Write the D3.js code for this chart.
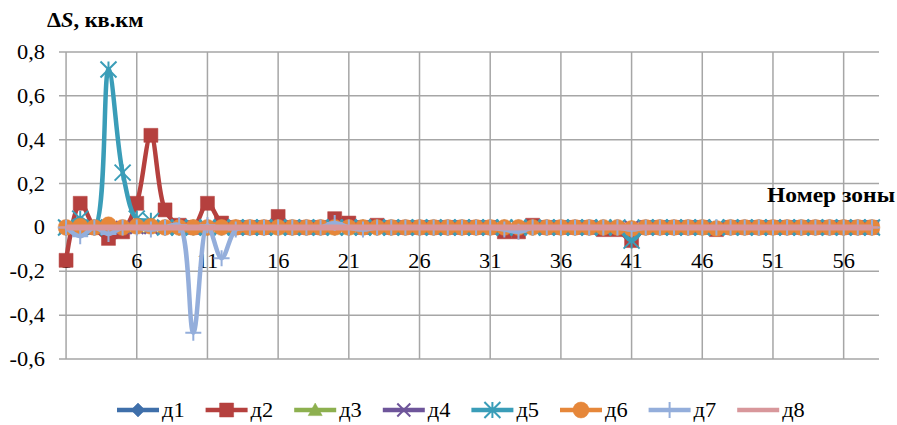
<!DOCTYPE html>
<html>
<head>
<meta charset="utf-8">
<script src="https://cdn.jsdelivr.net/npm/d3@7"></script>
<style>
  html, body { margin: 0; padding: 0; background: #fff; }
  svg { display: block; }
</style>
</head>
<body>
<svg id="chart" width="897" height="425"></svg>
<script>
// Zone numbers along the horizontal axis
const zones = [1,2,3,4,5,6,7,8,9,10,11,12,13,14,15,16,17,18,19,20,
               21,22,23,24,25,26,27,28,29,30,31,32,33,34,35,36,37,38,39,40,
               41,42,43,44,45,46,47,48,49,50,51,52,53,54,55,56,57,58];
const xTickLabels = ["1","6","11","16","21","26","31","36","41","46","51","56"];
const yTicks = [-0.6, -0.4, -0.2, 0, 0.2, 0.4, 0.6, 0.8];
const yTickLabels = ["-0,6","-0,4","-0,2","0","0,2","0,4","0,6","0,8"];
const seriesNames = ["д1","д2","д3","д4","д5","д6","д7","д8"];

// Area change ΔS per zone, km²
const d1 = [0,0,0,0,0,0,0,0,0,0, 0,0,0,0,0,0,0,0,0,0, 0,0,0,0,0,0,0,0,0,0,
            0,0,0,0,0,0,0,0,0,0, 0,0,0,0,0,0,0,0,0,0, 0,0,0,0,0,0,0,0];
const d2 = [-0.15,0.11,0.0,-0.05,-0.02,0.11,0.42,0.08,0.01,0.0,
            0.11,0.02,0.0,0.0,0.0,0.05,0.0,0.0,0.0,0.04,
            0.02,0.0,0.01,0.0,0.0,0.0,0.0,0.0,0.0,0.0,
            0.0,-0.02,-0.02,0.01,0.0,0.0,0.0,0.0,-0.01,-0.01,
            -0.06,0.0,0.0,0.0,0.0,0.0,-0.01,0.0,0.0,0.0,
            0.0,0.0,0.0,0.0,0.0,0.0,0.0,0.0];
const d3v = [0,0,0,0,0,0,0,0,0,0, 0,0,0,0,0,-0.005,0,0,0,-0.005, -0.005,0,0,0,0,0,0,0,0,0,
             0,0,0,0,0,0,0,0,0,0, 0,0,0,0,0,-0.005,0,0,0,0, 0,0,0,0,0,0,0,0];
const d4 = [0,0,0,0,0,0,0,0,0,0, 0,0,0,0,0,0,0,0,0,0, 0,0,0,0,0,0,0,0,0,0,
            0,0,0,0,0,0,0,0,0,0, 0,0,0,0,0,0,0,0,0,0, 0,0,0,0,0,0,0,0];
const d5 = [0.0,0.04,0.0,0.72,0.25,0.04,0.03,0.0,0.0,0.0,
            0.0,0.0,0.0,0.0,0.0,0.0,0.0,0.0,0.0,0.0,
            0.0,0.0,0.0,0.0,0.0,0.0,0.0,0.0,0.0,0.0,
            0.0,0.0,0.0,0.0,0.0,0.0,0.0,0.0,0.0,0.0,
            -0.06,0.0,0.0,0.0,0.0,0.0,0.0,0.0,0.0,0.0,
            0.0,0.0,0.0,0.0,0.0,0.0,0.0,0.0];
const d6 = [0,0.005,0,0.012,0,0.005,0.005,0,0,0, 0,0,0,0,0,0,0,0,0,0, 0,0,0,0,0,0,0,0,0,0,
            0,0,0,0,0,0,0,0,0,0, -0.005,0,0,0,0,0,-0.005,0,0,0, 0,0,0,0,0,0,0,0];
const d7 = [0.0,-0.04,0.0,-0.03,0.0,0.0,-0.01,0.0,0.01,-0.48,
            0.01,-0.14,-0.01,0.0,0.0,0.0,0.0,0.0,0.0,0.02,
            0.0,-0.01,0.0,0.0,0.0,0.0,0.0,0.0,0.0,0.0,
            0.0,-0.01,-0.02,0.0,0.0,0.0,0.0,0.0,0.0,0.0,
            -0.01,0.0,0.0,0.0,0.0,0.0,0.0,0.0,0.0,0.0,
            0.0,0.0,0.0,0.0,0.0,0.0,0.0,0.0];
const d8 = [0,0,0,0,0,0,0,0,0,0, 0,0,0,0,0,0,0,0,0,0, 0,0,0,0,0,0,0,0,0,0,
            0,0,0,0,0,0,0,0,0,0, 0,0,0,0,0,0,0,0,0,0, 0,0,0,0,0,0,0,0];

const seriesValues = [d1, d2, d3v, d4, d5, d6, d7, d8];
const colors = ["#3F6FAA","#B5403E","#8DB04F","#6E559A","#3A9DB8","#E6873A","#94AEDB","#D8979B"];
const markerKinds = ["diamond","square","triangle","times","star","circle","plus","dash"];

const FONT = '"Liberation Serif"';
const svg = d3.select("#chart");
const margin = {left: 59, right: 18, top: 52, bottom: 66};
const W = 897, H = 425;

const x = d3.scaleLinear().domain([0.5, 58.5]).range([margin.left, W - margin.right]);
const y = d3.scaleLinear().domain([-0.6, 0.8]).range([H - margin.bottom, margin.top]);

const gridColor = "#A6A6A6";

// horizontal gridlines
svg.append("g").selectAll("line").data(yTicks).join("line")
  .attr("x1", margin.left).attr("x2", W - margin.right)
  .attr("y1", d => y(d)).attr("y2", d => y(d))
  .attr("stroke", gridColor).attr("stroke-width", 1.5);

// vertical gridlines at labelled zones
svg.append("g").selectAll("line").data(xTickLabels).join("line")
  .attr("x1", d => x(+d)).attr("x2", d => x(+d))
  .attr("y1", y(0.8)).attr("y2", y(-0.6))
  .attr("stroke", gridColor).attr("stroke-width", 1.5);

// slightly widened labels, anchored at (px, py)
const SX = 1.12;

// value axis labels
svg.append("g").selectAll("text").data(yTicks).join("text")
  .attr("transform", d => `translate(45,${y(d) + 7}) scale(${SX},1)`)
  .attr("text-anchor", "end")
  .style("font-family", FONT).style("font-size", "20px")
  .attr("fill", "#000")
  .text((d, i) => yTickLabels[i]);

// zone labels just below the zero line
svg.append("g").selectAll("text").data(xTickLabels).join("text")
  .attr("transform", d => `translate(${x(+d)},${y(0) + 41}) scale(${SX},1)`)
  .attr("text-anchor", "middle")
  .style("font-family", FONT).style("font-size", "20px")
  .attr("fill", "#000")
  .text(d => d);

// marker shapes
function markerPath(kind, s) {
  switch (kind) {
    case "diamond": return `M0,${-s}L${s},0L0,${s}L${-s},0Z`;
    case "square": return `M${-s},${-s}H${s}V${s}H${-s}Z`;
    case "triangle": return `M0,${-s}L${s},${s*0.8}L${-s},${s*0.8}Z`;
    case "circle": return d3.symbol(d3.symbolCircle, Math.PI * s * s)();
    case "times": return `M${-s},${-s}L${s},${s}M${s},${-s}L${-s},${s}`;
    case "plus": return `M0,${-s}V${s}M${-s},0H${s}`;
    case "star": return `M${-s},${-s}L${s},${s}M${s},${-s}L${-s},${s}M0,${-s}V${s}`;
    case "dash": return `M${-s},0H${s}`;
  }
}
const filled = {diamond: true, square: true, triangle: true, circle: true};
const markerSize = {diamond: 7, square: 7, triangle: 7, circle: 8, times: 6.5, plus: 8, star: 8, dash: 6};

const line = d3.line()
  .x((d, i) => x(zones[i]))
  .y(d => y(d))
  .curve(d3.curveCatmullRom.alpha(0.5));

const plot = svg.append("g");
seriesValues.forEach((vals, si) => {
  const g = plot.append("g");
  const c = colors[si], k = markerKinds[si];
  g.append("path").datum(vals)
    .attr("d", line)
    .attr("fill", "none").attr("stroke", c)
    .attr("stroke-width", si === 7 ? 6 : 4.5).attr("stroke-linejoin", "round");
  g.selectAll("path.m").data(vals).join("path").attr("class", "m")
    .attr("transform", (d, i) => `translate(${x(zones[i])},${y(d)})`)
    .attr("d", markerPath(k, markerSize[k]))
    .attr("fill", filled[k] ? c : "none")
    .attr("stroke", c)
    .attr("stroke-width", filled[k] ? 0.5 : 2);
});

// axis titles
const title = svg.append("text").attr("transform", `translate(47,27) scale(${SX},1)`)
  .style("font-family", FONT).style("font-size", "20px").style("font-weight", "bold")
  .attr("fill", "#000");
title.append("tspan").text("Δ");
title.append("tspan").style("font-style", "italic").text("S");
title.append("tspan").text(", кв.км");

svg.append("text").attr("transform", `translate(895,202) scale(${SX},1)`)
  .attr("text-anchor", "end")
  .style("font-family", FONT).style("font-size", "21px").style("font-weight", "bold")
  .attr("fill", "#000")
  .text("Номер зоны");

// legend
const legend = svg.append("g");
seriesNames.forEach((name, i) => {
  const x0 = 117 + i * 88.6, ly = 410;
  const c = colors[i], k = markerKinds[i];
  const item = legend.append("g");
  item.append("line").attr("x1", x0).attr("x2", x0 + 42).attr("y1", ly).attr("y2", ly)
    .attr("stroke", c).attr("stroke-width", 4.5);
  item.append("path")
    .attr("transform", `translate(${x0 + 21},${ly})`)
    .attr("d", markerPath(k, markerSize[k]))
    .attr("fill", filled[k] ? c : "none")
    .attr("stroke", c).attr("stroke-width", filled[k] ? 0.5 : 2);
  item.append("text").attr("transform", `translate(${x0 + 45},${ly + 7}) scale(${SX},1)`)
    .style("font-family", FONT).style("font-size", "20px")
    .attr("fill", "#000").text(name);
});
</script>
</body>
</html>
